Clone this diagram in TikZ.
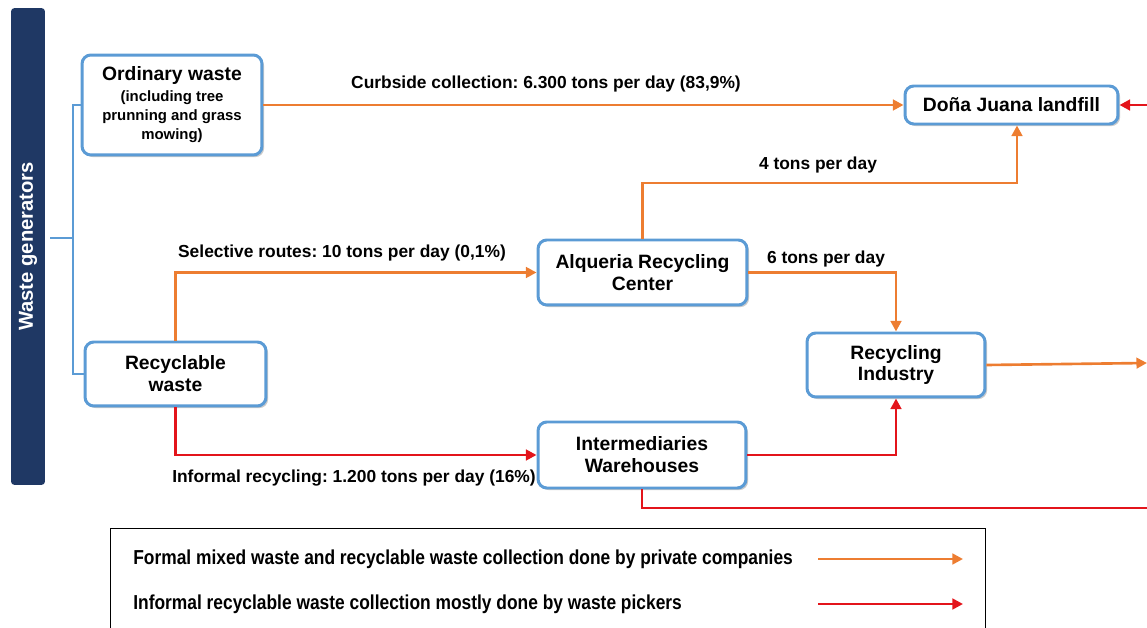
\documentclass[tikz,border=0pt]{standalone}
\usepackage{fontspec}
\setmainfont{Liberation Sans}
\newfontfamily\narrowfont[FakeStretch=0.86]{Liberation Sans}
\usetikzlibrary{arrows.meta,shadows}
\definecolor{boxblue}{HTML}{5B9BD5}
\definecolor{navy}{HTML}{1F3864}
\definecolor{oline}{HTML}{ED7D31}
\definecolor{rline}{HTML}{E3141B}
\frenchspacing
\tikzset{
  wbox/.style={draw=boxblue, line width=1.7pt, rounded corners=5pt, fill=white,
    align=center, font=\bfseries\fontsize{11}{12.5}\selectfont,
    drop shadow={shadow xshift=1.2pt, shadow yshift=-1.2pt, opacity=0.35, fill=black!60}},
  genbar/.style={fill=navy, rounded corners=2pt, text=white, rotate=90,
    font=\bfseries\fontsize{11.5}{13}\selectfont},
  bracket/.style={draw=boxblue, line width=1.3pt},
  oarrow/.style={draw=oline, line width=1.5pt, -{Triangle[length=6pt,width=6pt]}},
  rarrow/.style={draw=rline, line width=1.5pt, -{Triangle[length=6pt,width=6pt]}},
  rline/.style={draw=rline, line width=1.5pt},
  elabel/.style={font=\bfseries\fontsize{9.9}{11}\selectfont, inner sep=1pt},
  legtext/.style={font=\narrowfont\bfseries\fontsize{11.5}{13}\selectfont, anchor=west, inner sep=0pt},
  legbox/.style={draw=black, line width=0.6pt, anchor=north west}
}
\begin{document}
\begin{tikzpicture}[x=0.02cm, y=-0.02cm]
\useasboundingbox (0,0) rectangle (1147,628);

% waste generators bar
\node[genbar, minimum width=9.54cm, minimum height=0.68cm] (bar) at (28,246.5) {Waste generators};

% boxes
\node[wbox, minimum width=3.6cm, minimum height=2.0cm] (ord) at (172,105)
  {Ordinary waste\\[-1pt]{\fontsize{8.5}{10}\selectfont (including tree}\\[-1.5pt]{\fontsize{8.5}{10}\selectfont prunning and grass}\\[-1.5pt]{\fontsize{8.5}{10}\selectfont mowing)}};
\node[wbox, minimum width=3.62cm, minimum height=1.28cm] (rec) at (175.5,374) {Recyclable\\waste};
\node[wbox, minimum width=4.26cm, minimum height=0.76cm] (dona) at (1011.5,105) {Doña Juana landfill};
\node[wbox, minimum width=4.18cm, minimum height=1.3cm] (alq) at (642.5,272.5) {Alqueria Recycling\\Center};
\node[wbox, minimum width=3.56cm, minimum height=1.28cm] (ind) at (896,365) {Recycling\\Industry};
\node[wbox, minimum width=4.16cm, minimum height=1.32cm] (inter) at (642,455) {Intermediaries\\Warehouses};

% bracket
\coordinate (brk0) at (50,238);
\coordinate (brk) at (73,238);
\draw[bracket] (brk0) -- (brk);
\draw[bracket] (ord.west) -| (brk) |- (rec.west);

% coordinates
\coordinate (k1) at (1017,183);
\coordinate (out1) at (1147,363);
\coordinate (out2) at (1160,508);
\coordinate (in1) at (1160,105);

% orange connectors
\draw[oarrow] (ord.east |- dona.west) -- (dona.west);
\draw[oarrow] (alq.north) |- (k1) -- (dona.south -| k1);
\draw[oarrow] (alq.east) -| (ind.north);
\draw[oarrow] (rec.north) |- (alq.west);
\draw[oarrow] (ind.east) -- (out1);

% red connectors
\draw[rarrow] (rec.south) |- (inter.west);
\draw[rarrow] (inter.east) -| (ind.south);
\draw[rline] (inter.south) |- (out2);
\draw[rarrow] (in1) -- (dona.east);

% labels
\node[elabel] (lcurb) at (546,84) {Curbside collection: 6.300 tons per day (83,9\%)};
\node[elabel] (l4) at (818,165) {4 tons per day};
\node[elabel] (l6) at (826,259) {6 tons per day};
\node[elabel] (lsel) at (342,253) {Selective routes: 10 tons per day (0,1\%)};
\node[elabel] (linf) at (354,478) {Informal recycling: 1.200 tons per day (16\%)};

% legend
\node[legbox, minimum width=17.5cm, minimum height=2.5cm] (leg) at (110,528) {};
\node[legtext] (lt1) at (133,559) {Formal mixed waste and recyclable waste collection done by private companies};
\node[legtext] (lt2) at (133,604) {Informal recyclable waste collection mostly done by waste pickers};
\coordinate (la1) at (818,559);
\coordinate (lb1) at (963,559);
\coordinate (la2) at (818,604);
\coordinate (lb2) at (963,604);
\draw[oarrow] (la1) -- (lb1);
\draw[rarrow] (la2) -- (lb2);
\end{tikzpicture}
\end{document}
